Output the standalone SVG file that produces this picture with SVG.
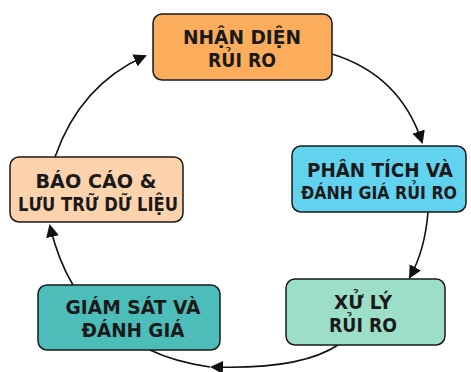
<svg xmlns="http://www.w3.org/2000/svg" width="471" height="372" viewBox="0 0 471 372">
<defs>
<marker id="ah" markerWidth="13" markerHeight="13" refX="11" refY="6.5" orient="auto" markerUnits="userSpaceOnUse">
<path d="M0,0 L13,6.5 L0,13 Z" fill="#111"/>
</marker>
<style>
.box{stroke:#1a1a1a;stroke-width:1.5}
.t{font-family:"DejaVu Sans","Liberation Sans",sans-serif;font-weight:700;font-size:19px;fill:#1a1a1a;text-anchor:middle}
.s{font-size:17px}
.c{fill:none;stroke:#111;stroke-width:1.6}
</style>
</defs>
<rect width="471" height="372" fill="#fff"/>
<g id="connectors">
<path class="c" d="M332,54 Q400,75 422,142" marker-end="url(#ah)"/>
<path class="c" d="M428,212 Q425,250 410,277" marker-end="url(#ah)"/>
<path class="c" d="M338,345 Q300,370 212,367" marker-end="url(#ah)"/>
<path class="c" d="M210,367 Q175,362 150,350"/>
<path class="c" d="M73,285 Q58,260 50,226" marker-end="url(#ah)"/>
<path class="c" d="M55,157 Q80,85 145,56" marker-end="url(#ah)"/>
</g>
<g id="n1">
<rect class="box" x="153" y="14" width="179" height="66" rx="9" fill="#FBAD5C"/>
<text class="t" x="242" y="44" textLength="118" lengthAdjust="spacingAndGlyphs">NHẬN DIỆN</text>
<text class="t" x="242" y="67" textLength="68" lengthAdjust="spacingAndGlyphs">RỦI RO</text>
</g>
<g id="n2">
<rect class="box" x="292" y="146" width="174" height="66" rx="9" fill="#62D3EF"/>
<text class="t" x="380" y="177" textLength="146" lengthAdjust="spacingAndGlyphs">PHÂN TÍCH VÀ</text>
<text class="t s" x="379" y="199" textLength="156" lengthAdjust="spacingAndGlyphs">ĐÁNH GIÁ RỦI RO</text>
</g>
<g id="n3">
<rect class="box" x="286" y="279" width="159" height="66" rx="9" fill="#9CDEC7"/>
<text class="t" x="363" y="309" textLength="58" lengthAdjust="spacingAndGlyphs">XỬ LÝ</text>
<text class="t" x="363" y="332" textLength="68" lengthAdjust="spacingAndGlyphs">RỦI RO</text>
</g>
<g id="n4">
<rect class="box" x="38" y="285" width="182" height="65" rx="9" fill="#4DBDBA"/>
<text class="t" x="133" y="314" textLength="135" lengthAdjust="spacingAndGlyphs">GIÁM SÁT VÀ</text>
<text class="t" x="133" y="337" textLength="103" lengthAdjust="spacingAndGlyphs">ĐÁNH GIÁ</text>
</g>
<g id="n5">
<rect class="box" x="10" y="157" width="173" height="65" rx="9" fill="#FDD3AE"/>
<text class="t" x="96" y="188" textLength="121" lengthAdjust="spacingAndGlyphs">BÁO CÁO &amp;</text>
<text class="t" x="98" y="211" textLength="160" lengthAdjust="spacingAndGlyphs">LƯU TRỮ DỮ LIỆU</text>
</g>
</svg>
